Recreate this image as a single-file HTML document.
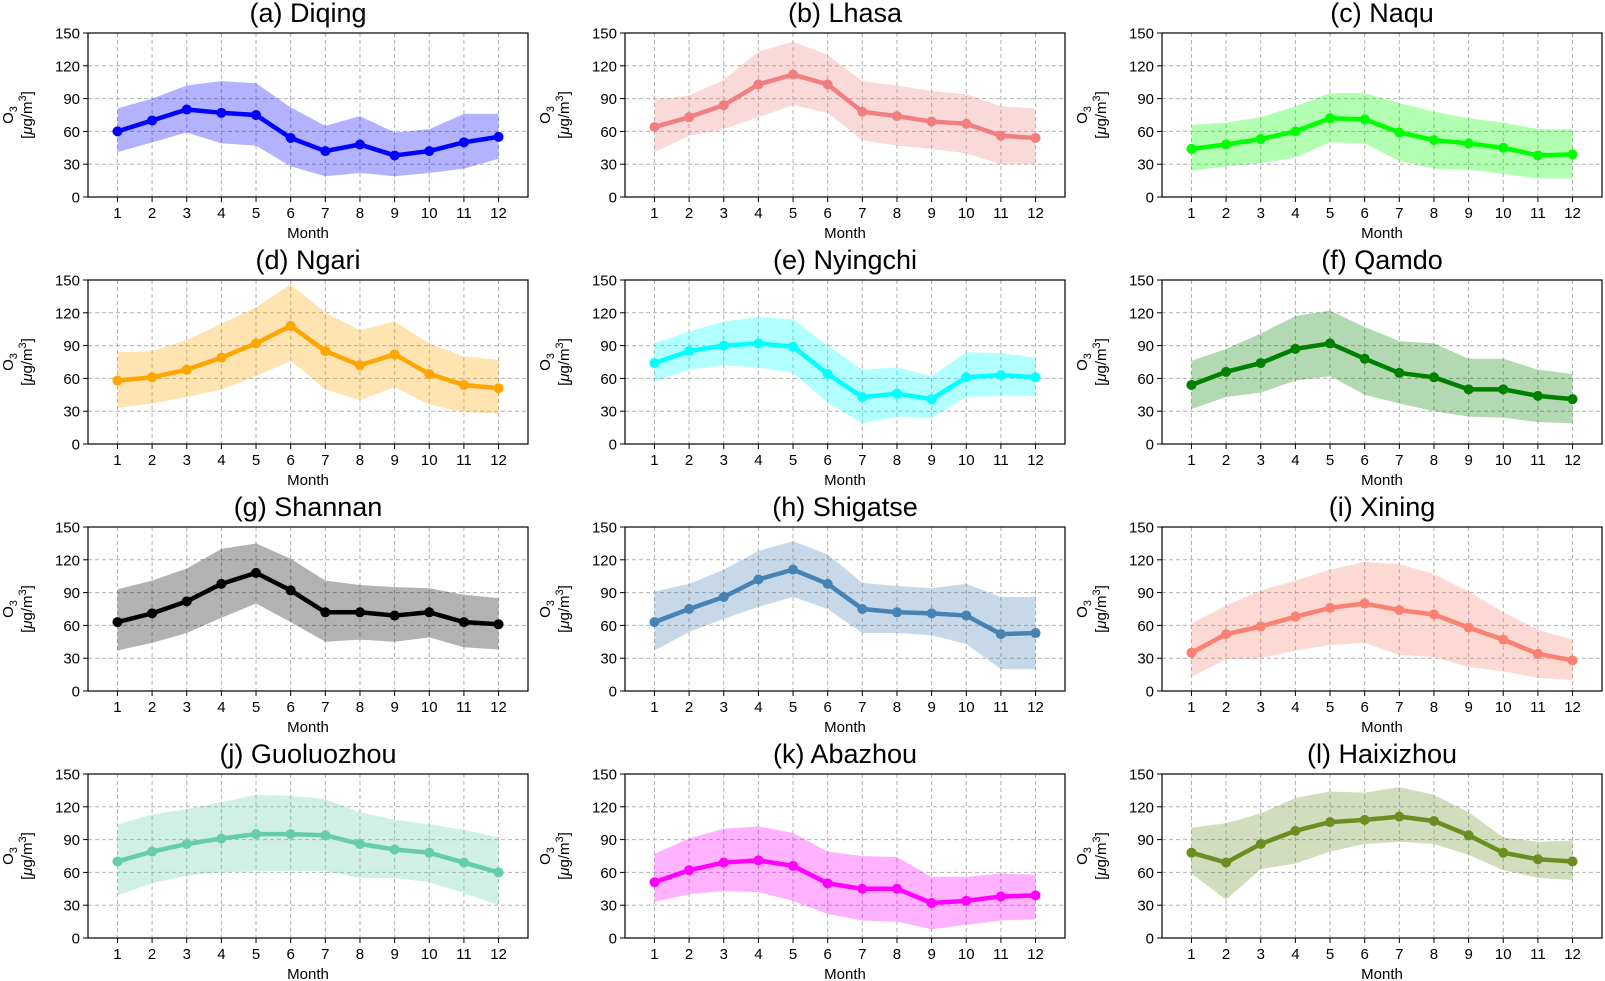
<!DOCTYPE html>
<html><head><meta charset="utf-8"><style>
html,body{margin:0;padding:0;background:#fff;}
svg{display:block;font-family:"Liberation Sans",Arial,sans-serif;}
</style></head><body>
<svg id="fig" width="1605" height="981" viewBox="0 0 1605 981" xmlns="http://www.w3.org/2000/svg"></svg>
<script>
const months = [1,2,3,4,5,6,7,8,9,10,11,12];
const yTicks = [0,30,60,90,120,150];
const titles = ["(a) Diqing","(b) Lhasa","(c) Naqu","(d) Ngari","(e) Nyingchi","(f) Qamdo","(g) Shannan","(h) Shigatse","(i) Xining","(j) Guoluozhou","(k) Abazhou","(l) Haixizhou"];
const colors = ["#0000ff","#f08080","#00ff00","#ffa500","#00ffff","#008000","#000000","#4682b4","#fa8072","#66cdaa","#ff00ff","#6b8e23"];
const meanDiqing = [60,70,80,77,75,54,42,48,38,42,50,55];
const upDiqing = [81,90,102,106,104,82,65,74,59,62,76,76];
const loDiqing = [41,50,59,49,47,28,19,22,19,22,26,35];
const meanLhasa = [64,73,84,103,112,103,78,74,69,67,56,54];
const upLhasa = [89,93,107,133,142,130,106,102,97,94,83,81];
const loLhasa = [41,56,62,73,84,77,52,47,44,40,30,30];
const meanNaqu = [44,48,53,60,72,71,59,52,49,45,38,39];
const upNaqu = [66,68,73,83,95,95,86,78,72,68,62,62];
const loNaqu = [24,28,31,36,50,49,33,26,25,21,17,17];
const meanNgari = [58,61,68,79,92,108,85,72,82,64,54,51];
const upNgari = [84,85,95,110,125,146,120,104,112,92,80,77];
const loNgari = [33,37,43,50,62,76,50,40,52,36,29,28];
const meanNyingchi = [74,85,90,92,89,64,43,46,41,61,63,61];
const upNyingchi = [92,103,112,116,114,90,68,70,62,84,83,79];
const loNyingchi = [57,68,72,70,65,38,19,25,24,43,44,44];
const meanQamdo = [54,66,74,87,92,78,65,61,50,50,44,41];
const upQamdo = [76,87,101,117,122,107,94,92,78,78,68,64];
const loQamdo = [32,43,47,58,62,45,37,30,25,24,20,19];
const meanShannan = [63,71,82,98,108,92,72,72,69,72,63,61];
const upShannan = [93,101,112,130,135,121,101,97,95,94,88,85];
const loShannan = [37,44,53,67,80,63,45,47,45,49,40,38];
const meanShigatse = [63,75,86,102,111,98,75,72,71,69,52,53];
const upShigatse = [91,98,111,128,137,125,99,96,94,98,86,86];
const loShigatse = [37,54,66,77,86,75,53,53,51,43,20,20];
const meanXining = [35,52,59,68,76,80,74,70,58,47,34,28];
const upXining = [62,78,92,101,111,118,116,107,91,72,56,47];
const loXining = [13,29,30,37,42,44,33,31,22,18,12,10];
const meanGuoluozhou = [70,79,86,91,95,95,94,86,81,78,69,60];
const upGuoluozhou = [104,113,118,124,131,130,127,115,108,104,99,92];
const loGuoluozhou = [39,50,57,60,61,61,61,55,55,51,41,30];
const meanAbazhou = [51,62,69,71,66,50,45,45,32,34,38,39];
const upAbazhou = [77,91,100,102,96,79,75,74,56,56,59,58];
const loAbazhou = [33,40,43,42,34,22,16,15,8,12,16,17];
const meanHaixizhou = [78,69,86,98,106,108,111,107,94,78,72,70];
const upHaixizhou = [101,105,114,128,134,133,138,131,115,92,88,89];
const loHaixizhou = [59,35,63,68,79,86,88,86,76,62,55,53];

const means = [meanDiqing,meanLhasa,meanNaqu,meanNgari,meanNyingchi,meanQamdo,meanShannan,meanShigatse,meanXining,meanGuoluozhou,meanAbazhou,meanHaixizhou];
const ups = [upDiqing,upLhasa,upNaqu,upNgari,upNyingchi,upQamdo,upShannan,upShigatse,upXining,upGuoluozhou,upAbazhou,upHaixizhou];
const los = [loDiqing,loLhasa,loNaqu,loNgari,loNyingchi,loQamdo,loShannan,loShigatse,loXining,loGuoluozhou,loAbazhou,loHaixizhou];

const NS = "http://www.w3.org/2000/svg";
const svg = document.getElementById("fig");
function mk(tag, attrs, parent){
  const e = document.createElementNS(NS, tag);
  for (const k in attrs) e.setAttribute(k, attrs[k]);
  (parent||svg).appendChild(e);
  return e;
}
const AX_W = 440, AX_H = 164, XMIN = 0.15, XMAX = 12.85, YMIN = 0, YMAX = 150;

for (let p = 0; p < 12; p++) {
  const col = p % 3, row = Math.floor(p / 3);
  const L = 88 + col * 537, T = 33 + row * 247;
  const sx = v => L + (v - XMIN) / (XMAX - XMIN) * AX_W;
  const sy = v => T + AX_H - (v - YMIN) / (YMAX - YMIN) * AX_H;
  const slug = titles[p].replace(/^\(.\)\s*/, "").toLowerCase();
  const g = mk("g", {});
  
  

  months.forEach(m => {
    const ln = mk("line", {x1:sx(m), x2:sx(m), y1:T, y2:T+AX_H, stroke:"#b0b0b0", "stroke-width":1, "stroke-dasharray":"4,3"}, g);
    
    
  });
  yTicks.forEach(v => {
    const ln = mk("line", {x1:L, x2:L+AX_W, y1:sy(v), y2:sy(v), stroke:"#b0b0b0", "stroke-width":1, "stroke-dasharray":"4,3"}, g);
    
    
  });

  let d = "";
  months.forEach((m,i) => { d += (i ? "L" : "M") + sx(m) + "," + sy(ups[p][i]); });
  for (let i = months.length - 1; i >= 0; i--) d += "L" + sx(months[i]) + "," + sy(los[p][i]);
  d += "Z";
  const band = mk("path", {d:d, fill:colors[p], "fill-opacity":0.3, stroke:"none"}, g);
  
  

  const pts = months.map((m,i) => sx(m) + "," + sy(means[p][i])).join(" ");
  const pl = mk("polyline", {points:pts, fill:"none", stroke:colors[p], "stroke-width":4.5, "stroke-linejoin":"round"}, g);
  
  
  months.forEach((m,i) => {
    const c = mk("circle", {cx:sx(m), cy:sy(means[p][i]), r:5, fill:colors[p]}, g);
    
    
  });

  const fr = mk("rect", {x:L, y:T, width:AX_W, height:AX_H, fill:"none", stroke:"#000", "stroke-width":1.2}, g);
  
  

  months.forEach(m => {
    mk("line", {x1:sx(m), x2:sx(m), y1:T+AX_H, y2:T+AX_H+5, stroke:"#000", "stroke-width":1}, g);
    const t = mk("text", {x:sx(m), y:T+AX_H+21, "text-anchor":"middle", "font-size":15, fill:"#000"}, g);
    t.textContent = m;
    
    
  });
  yTicks.forEach(v => {
    mk("line", {x1:L-5, x2:L, y1:sy(v), y2:sy(v), stroke:"#000", "stroke-width":1}, g);
    const t = mk("text", {x:L-8, y:sy(v)+5.5, "text-anchor":"end", "font-size":15, fill:"#000"}, g);
    t.textContent = v;
    
    
  });

  const xl = mk("text", {x:L+AX_W/2, y:T+AX_H+41, "text-anchor":"middle", "font-size":15, fill:"#000"}, g);
  xl.textContent = "Month";
  
  

  const cy = T + AX_H/2;
  const yl1 = mk("text", {transform:"translate(" + (L-75) + "," + cy + ") rotate(-90)", "text-anchor":"middle", "font-size":15, fill:"#000"}, g);
  yl1.innerHTML = 'O<tspan font-size="11" dy="4">3</tspan>';
  
  
  const yl2 = mk("text", {transform:"translate(" + (L-56) + "," + cy + ") rotate(-90)", "text-anchor":"middle", "font-size":15, fill:"#000"}, g);
  yl2.innerHTML = '[<tspan font-style="italic">μ</tspan>g/m<tspan font-size="11" dy="-6">3</tspan><tspan dy="6">]</tspan>';
  
  

  const tt = mk("text", {x:L+AX_W/2, y:T-11, "text-anchor":"middle", "font-size":27, fill:"#000"}, g);
  tt.textContent = titles[p];
  
  
}
</script>
</body></html>
